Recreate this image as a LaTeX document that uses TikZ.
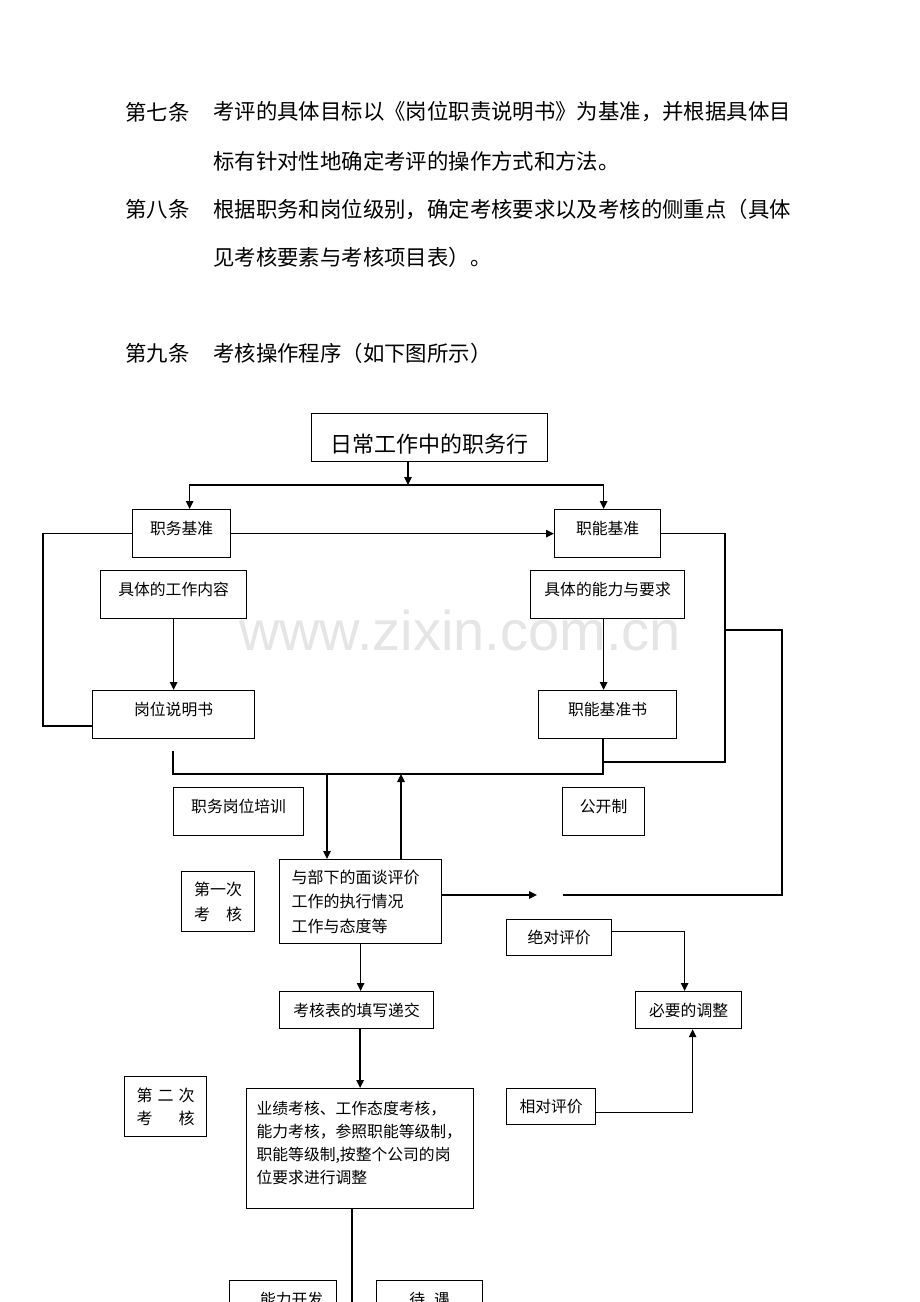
\documentclass[tikz,border=0pt]{standalone}
\usepackage{fontspec}
\usetikzlibrary{arrows.meta,calc}
\newfontfamily\cjk{Noto Sans CJK SC}
\newfontfamily\wmfont{Liberation Sans}

\begin{document}
\begin{tikzpicture}[x=1pt,y=-1pt,
  para/.style={anchor=west,inner sep=0pt,font=\cjk\fontsize{21.4}{26}\selectfont},
  box/.style={draw,line width=1.2pt,anchor=north west,inner sep=0pt,font=\cjk\fontsize{15.8}{18}\selectfont},
  tallbox/.style={box,minimum height=48pt,text height=12pt,text depth=10pt},
  conn/.style={line width=1.4pt},
  arr/.style={conn,-{Triangle[length=8pt,width=7.5pt]}}]
\useasboundingbox (0,0) rectangle (920,1302);
\clip (0,0) rectangle (920,1302);
\node[font=\wmfont\fontsize{56}{60}\selectfont,text=black!10,anchor=base] (wm) at (460,650) {www.zixin.com.cn};

\node[para] (a7) at (125,112) {第七条};
\node[para] (t7a) at (213,112) {考评的具体目标以《岗位职责说明书》为基准，并根据具体目};
\node[para] (t7b) at (213,161) {标有针对性地确定考评的操作方式和方法。};
\node[para] (a8) at (125,209) {第八条};
\node[para] (t8a) at (213,209) {根据职务和岗位级别，确定考核要求以及考核的侧重点（具体};
\node[para] (t8b) at (213,257) {见考核要素与考核项目表）。};
\node[para] (a9) at (125,353) {第九条};
\node[para] (t9) at (213,353) {考核操作程序（如下图所示）};

\node[box,minimum width=236pt,minimum height=48pt,text height=30pt,text depth=1pt,font=\cjk\fontsize{22}{26}\selectfont] (daily) at (311,413) {日常工作中的职务行};
\node[tallbox,minimum width=98pt] (zwjz) at (132,509) {职务基准};
\node[tallbox,minimum width=106pt] (znjz) at (554,509) {职能基准};
\node[tallbox,minimum width=146pt] (gznr) at (100,570) {具体的工作内容};
\node[tallbox,minimum width=154pt] (nlyq) at (530,570) {具体的能力与要求};
\node[tallbox,minimum width=162pt] (gwsms) at (92,690) {岗位说明书};
\node[tallbox,minimum width=138pt] (znjzs) at (538,690) {职能基准书};
\node[tallbox,minimum width=130pt] (pxun) at (173,787) {职务岗位培训};
\node[tallbox,minimum width=82pt] (gkz) at (562,787) {公开制};
\node[box,minimum width=73pt,minimum height=60pt,align=center,font=\cjk\fontsize{16}{25}\selectfont] (first) at (181,871) {第一次\\考\hspace{1em}核};
\node[box,minimum height=84pt,text width=138pt,inner xsep=12pt,align=left,font=\cjk\fontsize{16}{24.5}\selectfont] (mtpj) at (279,859) {与部下的面谈评价\\工作的执行情况\\工作与态度等};
\node[box,minimum width=154pt,minimum height=37pt] (khb) at (279,991) {考核表的填写递交};
\node[box,minimum width=105pt,minimum height=36pt] (jdpj) at (506,919) {绝对评价};
\node[box,minimum width=106pt,minimum height=37pt] (bytz) at (635,991) {必要的调整};
\node[box,minimum width=89pt,minimum height=36pt] (xdpj) at (506,1088) {相对评价};
\node[box,minimum width=82pt,minimum height=60pt,align=center,font=\cjk\fontsize{16}{23}\selectfont] (second) at (124,1076) {第\hspace{5pt}二\hspace{5pt}次\\考\hspace{26pt}核};
\node[box,minimum height=120pt,text width=207pt,inner xsep=10pt,align=left,font=\cjk\fontsize{15.8}{23}\selectfont] (big) at (246,1088) {业绩考核、工作态度考核，\\能力考核，参照职能等级制，\\职能等级制,按整个公司的岗\\位要求进行调整\rule[-13pt]{0pt}{13pt}};
\node[tallbox,minimum width=107pt] (nlkf) at (229,1280) {\hspace{17pt}能力开发};
\node[tallbox,minimum width=106pt] (dy) at (376,1280) {待\hspace{9pt}遇\hspace{11pt}};

\coordinate (fork) at (408,485);
\draw[arr] (fork |- daily.south) -- (fork);
\draw[arr] (fork) -| ([xshift=8pt]zwjz.north);
\draw[arr] (fork) -| ([xshift=-4pt]znjz.north);
\draw[arr] (zwjz.east) -- (znjz.west);
\coordinate (loopL) at (43,726);
\draw[conn] (zwjz.west) -| (loopL) -- (loopL -| gwsms.west);
\draw[arr] (gznr.south) -- (gwsms.north);
\draw[arr] ([xshift=-4pt]nlyq.south) -- ([xshift=-4pt]znjzs.north);
\coordinate (gatherL) at (173,751);
\coordinate (gatherR) at (603,774);
\draw[conn] (gatherL) |- (gatherR) -- (gatherR |- znjzs.south);
\coordinate (loopR) at (725,762);
\draw[conn] (znjz.east) -| (loopR) -- (loopR -| gatherR);
\coordinate (outA) at (725,630);
\coordinate (outB) at (782,895);
\coordinate (outEnd) at (563,895);
\draw[conn] (outA) -| (outB) -- (outEnd);
\coordinate (downX) at (327,774);
\draw[arr] (downX) -- (downX |- mtpj.north);
\coordinate (upX) at (401,774);
\draw[arr] (upX |- mtpj.north) -- (upX);
\coordinate (mtpjR) at (537,895);
\draw[arr] (mtpj.east |- mtpjR) -- (mtpjR);
\draw[arr] (mtpj.south) -- (mtpj.south |- khb.north);
\draw[arr] (khb.south -| big.north) -- (big.north);
\coordinate (tail) at (352,1310);
\draw[conn] (big.south -| tail) -- (tail);
\draw[arr] ([yshift=6pt]jdpj.east) -| ([xshift=-4pt]bytz.north);
\draw[arr] ([yshift=-6pt]xdpj.east) -| ([xshift=4pt]bytz.south);
\end{tikzpicture}
\end{document}
